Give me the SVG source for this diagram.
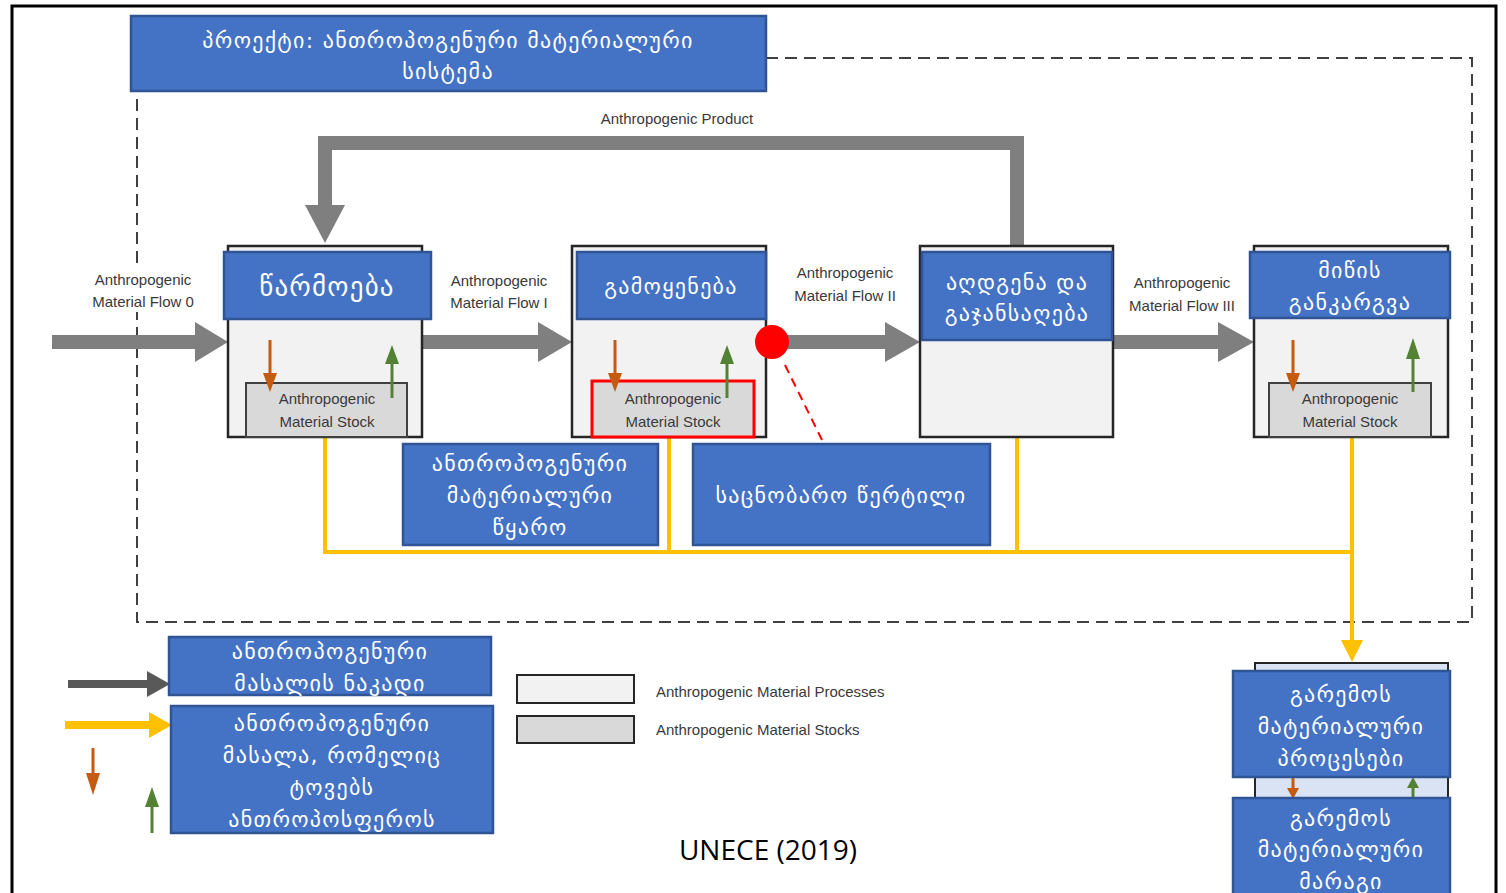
<svg xmlns="http://www.w3.org/2000/svg" width="1506" height="893" viewBox="0 0 1506 893">
<style>
.blue{fill:#4472C4;stroke:#2F5597;stroke-width:2.5}
.proc{fill:#F2F2F2;stroke:#262626;stroke-width:2.5}
.stock{fill:#D9D9D9;stroke:#404040;stroke-width:2}
.ka{font-family:"DejaVu Sans","Noto Sans",sans-serif;fill:#fff;text-anchor:middle;font-size:22px;letter-spacing:1.3px}
.big{font-size:27px;letter-spacing:1.2px}
.en{font-family:"Liberation Sans","Open Sans",sans-serif;fill:#3A3A3A;text-anchor:middle;font-size:15px}
.flow{stroke:#7F7F7F;stroke-width:14;fill:none}
.yel{stroke:#FFC000;stroke-width:4;fill:none}
</style>
<rect x="12" y="6" width="1484" height="900" fill="#fff" stroke="#000" stroke-width="3"/>
<path d="M766,58H1472V622H137V91" fill="none" stroke="#404040" stroke-width="2" stroke-dasharray="12,7"/>

<g id="connectors">
<path class="flow" d="M1017,246V143H325V205"/>
<path d="M305,205H345L325,243Z" fill="#7F7F7F"/>
<path class="flow" d="M52,342H196"/><path d="M195,322L228,342L195,362Z" fill="#7F7F7F"/>
<path class="flow" d="M422,342H540"/><path d="M538,322L572,342L538,362Z" fill="#7F7F7F"/>
<path class="flow" d="M775,342H887"/><path d="M885,322L920,342L885,362Z" fill="#7F7F7F"/>
<path class="flow" d="M1113,342H1220"/><path d="M1218,322L1254,342L1218,362Z" fill="#7F7F7F"/>
<path class="yel" d="M325,437V552H1352"/>
<path class="yel" d="M669,437V552"/>
<path class="yel" d="M1017,437V552"/>
<path class="yel" d="M1352,437V642"/>
<path d="M1341,640H1363L1352,662Z" fill="#FFC000"/>
<line x1="785" y1="365" x2="822" y2="440" stroke="#FF0000" stroke-width="2" stroke-dasharray="9,6"/>
<text class="en" x="677" y="124">Anthropogenic Product</text>
<rect x="88" y="268" width="112" height="44" fill="#fff"/>
<text class="en" x="143" y="285">Anthropogenic</text><text class="en" x="143" y="307">Material Flow 0</text>
<text class="en" x="499" y="286">Anthropogenic</text><text class="en" x="499" y="308">Material Flow I</text>
<text class="en" x="845" y="278">Anthropogenic</text><text class="en" x="845" y="301">Material Flow II</text>
<text class="en" x="1182" y="288">Anthropogenic</text><text class="en" x="1182" y="311">Material Flow III</text>
</g>

<g id="title">
<rect class="blue" x="131" y="16" width="635" height="75"/>
<text class="ka" x="448" y="48">პროექტი: ანთროპოგენური მატერიალური</text>
<text class="ka" x="448" y="79">სისტემა</text>
</g>

<g id="production">
<rect class="proc" x="228" y="246" width="194" height="191"/>
<rect class="stock" x="246" y="383" width="161" height="54"/>
<text class="en" x="327" y="404">Anthropogenic</text>
<text class="en" x="327" y="427">Material Stock</text>
<path d="M270,340V375" stroke="#C55A11" stroke-width="3"/><path d="M263,373H277L270,392Z" fill="#C55A11"/>
<path d="M392,398V362" stroke="#548235" stroke-width="3"/><path d="M385,364H399L392,345Z" fill="#548235"/>
<rect class="blue" x="224" y="252" width="207" height="67"/>
<text class="ka big" x="327" y="296">წარმოება</text>
</g>

<g id="use">
<rect class="proc" x="572" y="246" width="194" height="191"/>
<rect class="stock" x="592" y="381" width="162" height="56" style="stroke:#FF0000;stroke-width:3"/>
<text class="en" x="673" y="404">Anthropogenic</text>
<text class="en" x="673" y="427">Material Stock</text>
<path d="M615,340V375" stroke="#C55A11" stroke-width="3"/><path d="M608,373H622L615,392Z" fill="#C55A11"/>
<path d="M727,398V362" stroke="#548235" stroke-width="3"/><path d="M720,364H734L727,345Z" fill="#548235"/>
<rect class="blue" x="577" y="252" width="189" height="67"/>
<text class="ka" x="671" y="294">გამოყენება</text>
<circle cx="772" cy="342" r="17" fill="#FF0000"/>
</g>

<g id="recovery">
<rect class="proc" x="920" y="246" width="193" height="191"/>
<rect class="blue" x="922" y="252" width="190" height="88"/>
<text class="ka" x="1017" y="290">აღდგენა და</text>
<text class="ka" x="1017" y="321">გაჯანსაღება</text>
</g>

<g id="disposal">
<rect class="proc" x="1254" y="246" width="194" height="191"/>
<rect class="stock" x="1269" y="383" width="162" height="54"/>
<text class="en" x="1350" y="404">Anthropogenic</text>
<text class="en" x="1350" y="427">Material Stock</text>
<path d="M1293,340V375" stroke="#C55A11" stroke-width="3"/><path d="M1286,373H1300L1293,392Z" fill="#C55A11"/>
<path d="M1413,392V357" stroke="#548235" stroke-width="3"/><path d="M1406,359H1420L1413,338Z" fill="#548235"/>
<rect class="blue" x="1250" y="252" width="200" height="66"/>
<text class="ka" x="1350" y="278">მიწის</text>
<text class="ka" x="1350" y="310">განკარგვა</text>
</g>

<g id="source">
<rect class="blue" x="403" y="444" width="255" height="101"/>
<text class="ka" x="530" y="471">ანთროპოგენური</text>
<text class="ka" x="530" y="503">მატერიალური</text>
<text class="ka" x="530" y="535">წყარო</text>
</g>

<g id="reference-point">
<rect class="blue" x="693" y="444" width="297" height="101"/>
<text class="ka" x="841" y="503">საცნობარო წერტილი</text>
</g>

<g id="environment">
<rect x="1255" y="663" width="193" height="240" fill="#DAE3F3" stroke="#262626" stroke-width="2"/>
<path d="M1293,775V790" stroke="#C55A11" stroke-width="3"/><path d="M1287,788H1299L1293,799Z" fill="#C55A11"/>
<path d="M1413,800V786" stroke="#548235" stroke-width="3"/><path d="M1407,788H1419L1413,777Z" fill="#548235"/>
<rect class="blue" x="1233" y="671" width="217" height="106"/>
<text class="ka" x="1341" y="702">გარემოს</text>
<text class="ka" x="1341" y="734">მატერიალური</text>
<text class="ka" x="1341" y="766">პროცესები</text>
<rect class="blue" x="1233" y="798" width="217" height="110"/>
<text class="ka" x="1341" y="826">გარემოს</text>
<text class="ka" x="1341" y="857">მატერიალური</text>
<text class="ka" x="1341" y="889">მარაგი</text>
</g>

<g id="legend">
<path d="M68,684H148" stroke="#595959" stroke-width="8"/><path d="M147,671L170,684L147,697Z" fill="#595959"/>
<rect class="blue" x="169" y="637" width="322" height="58"/>
<text class="ka" x="330" y="659">ანთროპოგენური</text>
<text class="ka" x="330" y="691">მასალის ნაკადი</text>
<path d="M65,725H150" stroke="#FFC000" stroke-width="8"/><path d="M149,712L172,725L149,738Z" fill="#FFC000"/>
<rect class="blue" x="171" y="706" width="322" height="127"/>
<text class="ka" x="332" y="731">ანთროპოგენური</text>
<text class="ka" x="332" y="763">მასალა, რომელიც</text>
<text class="ka" x="332" y="795">ტოვებს</text>
<text class="ka" x="332" y="827">ანთროპოსფეროს</text>
<path d="M93,748V775" stroke="#C55A11" stroke-width="3"/><path d="M86,773H100L93,795Z" fill="#C55A11"/>
<path d="M152,833V805" stroke="#548235" stroke-width="3"/><path d="M145,807H159L152,787Z" fill="#548235"/>
<rect x="517" y="675" width="117" height="28" fill="#F2F2F2" stroke="#262626" stroke-width="2"/>
<rect x="517" y="716" width="117" height="27" fill="#D9D9D9" stroke="#262626" stroke-width="2"/>
<text class="en" x="656" y="697" style="text-anchor:start">Anthropogenic Material Processes</text>
<text class="en" x="656" y="735" style="text-anchor:start">Anthropogenic Material Stocks</text>
<text x="768" y="860" font-family="Open Sans, Liberation Sans, sans-serif" font-size="28" text-anchor="middle" fill="#000">UNECE (2019)</text>
</g>
</svg>
